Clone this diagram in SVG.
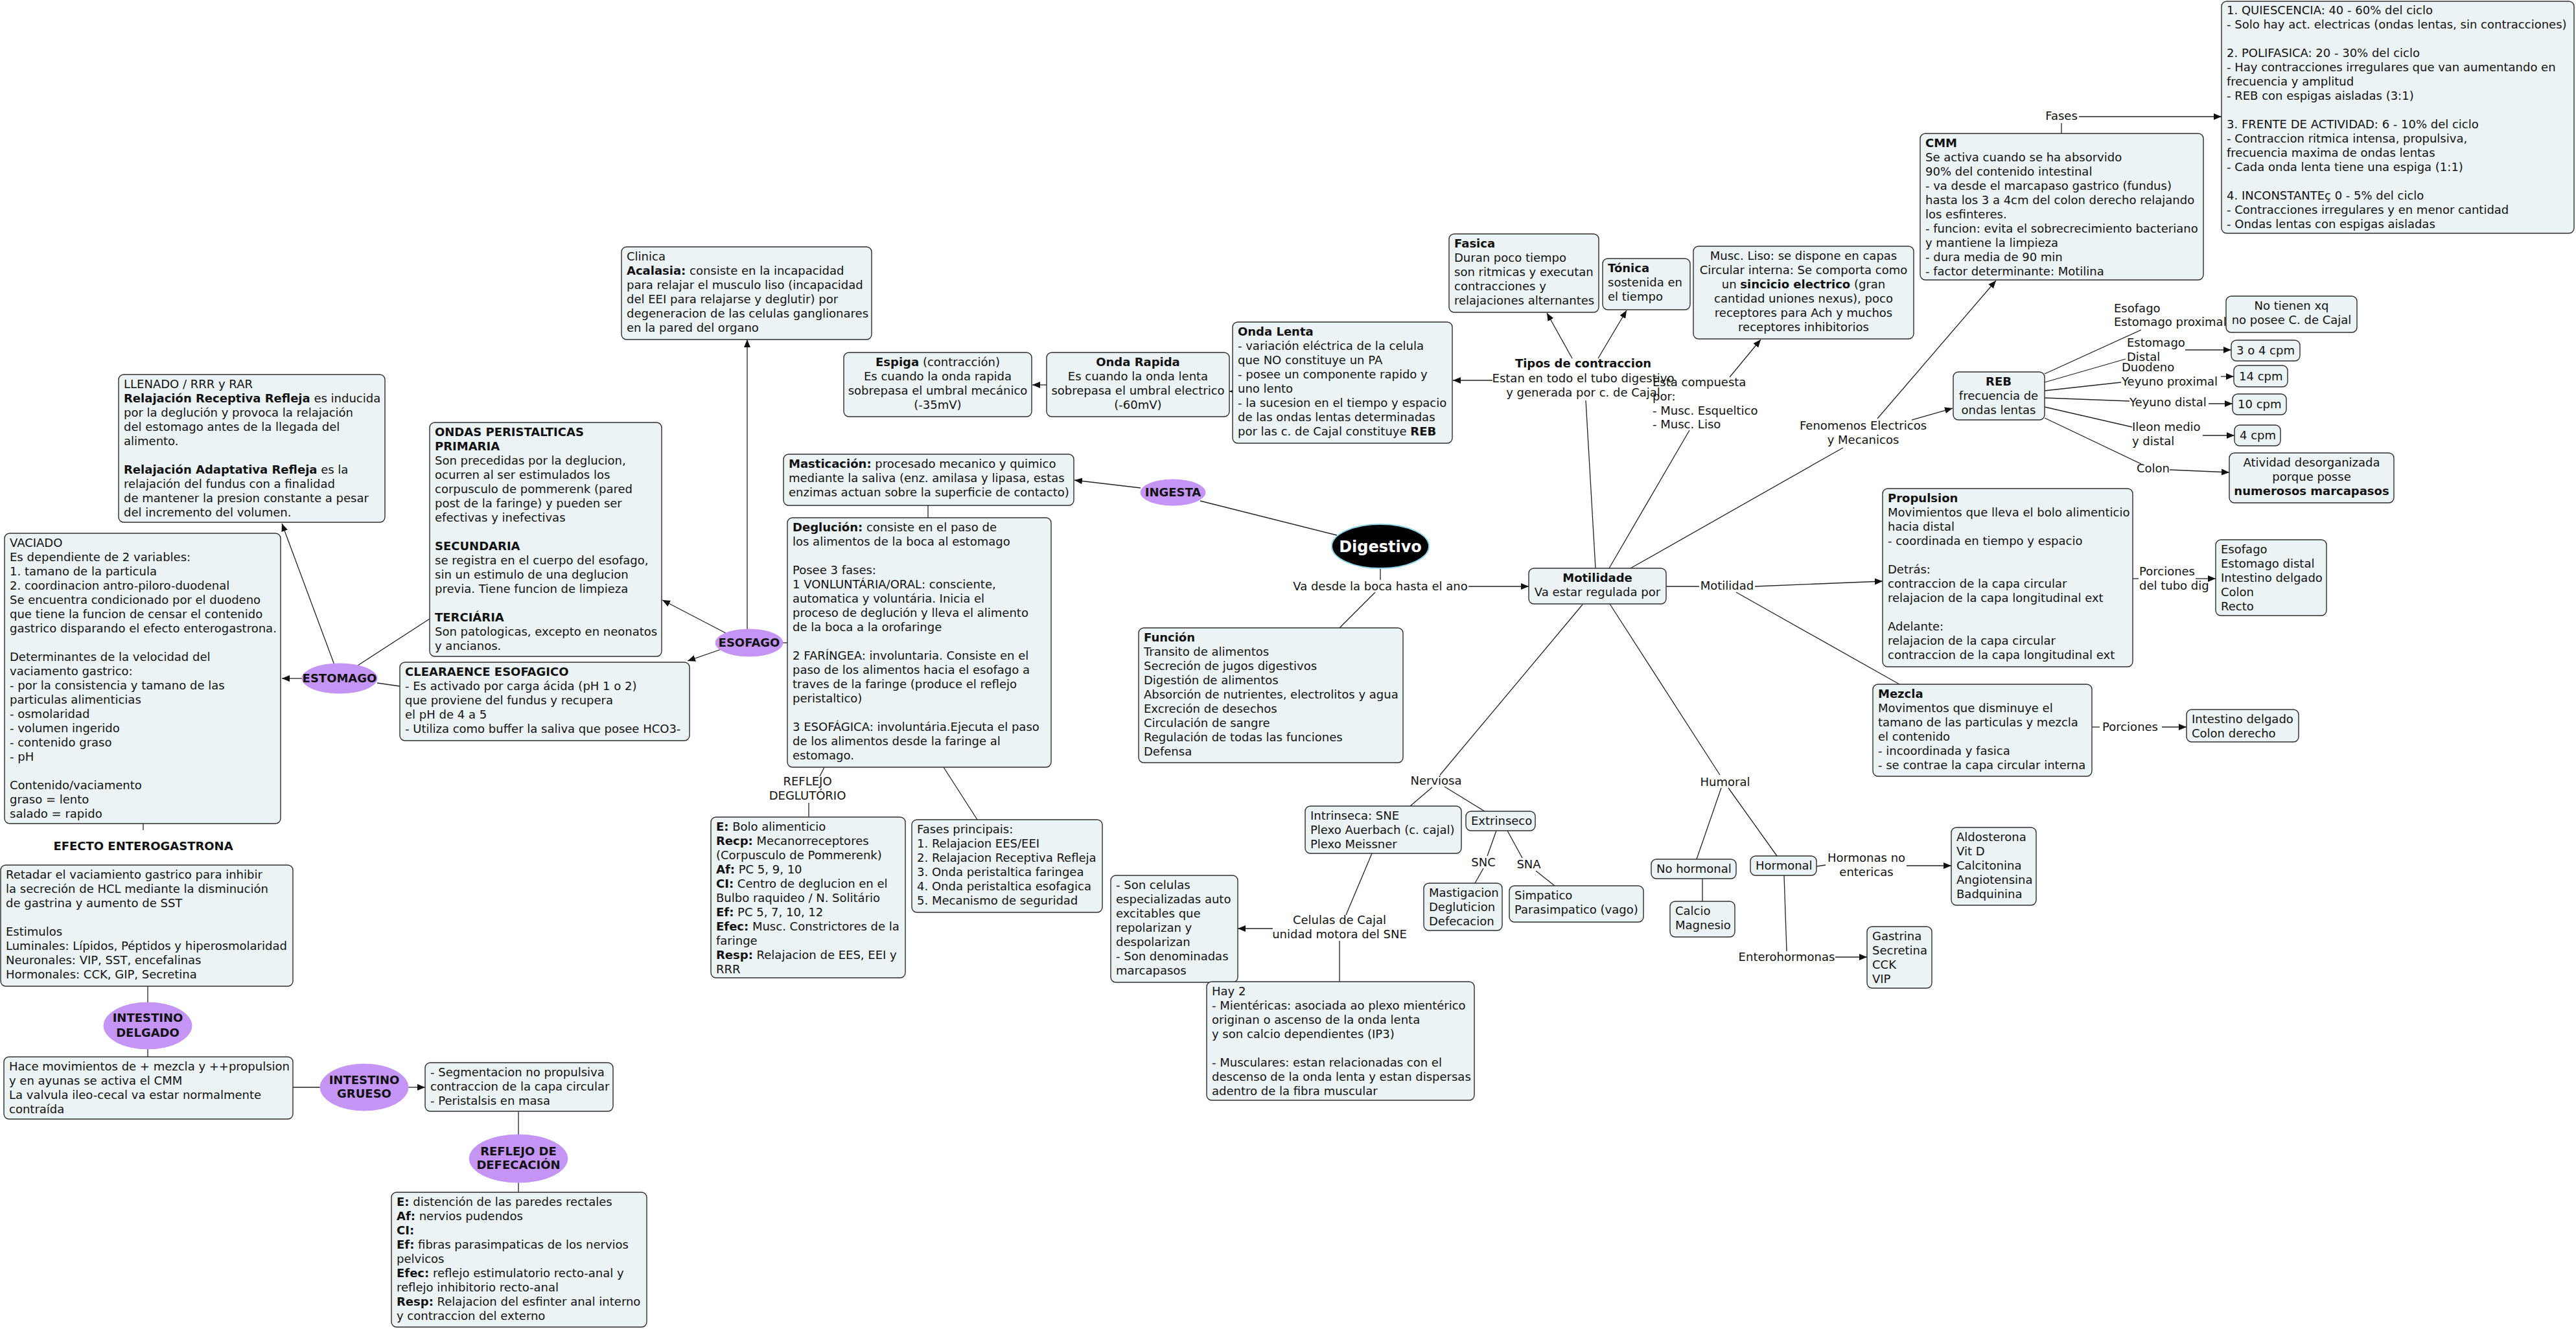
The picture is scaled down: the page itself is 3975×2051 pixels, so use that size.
<svg xmlns="http://www.w3.org/2000/svg" width="3975" height="2051" viewBox="0 0 3975 2051">
<style>
text{font-family:"DejaVu Sans",Verdana,sans-serif;font-size:18px;fill:#111}
.b{font-weight:bold}
.c{text-anchor:middle}
.n rect{fill:#ECF3F5;stroke:#2e2e2e;stroke-width:1.4}
ellipse.p{fill:#C595F5;stroke:#C595F5;stroke-width:1}
#links line,#links path{stroke:#222;stroke-width:1.3;fill:none}
</style>
<defs>
<marker id="a" viewBox="0 0 12 12" refX="12" refY="6" markerWidth="12" markerHeight="12" markerUnits="userSpaceOnUse" orient="auto"><path d="M0,1 L12,6 L0,11 z" fill="#111"/></marker>
</defs>
<rect width="3975" height="2051" fill="#fff"/>

<g id="links">
<line x1="516" y1="1026" x2="435" y2="808" marker-end="url(#a)"/>
<line x1="466" y1="1047" x2="435" y2="1047" marker-end="url(#a)"/>
<line x1="552" y1="1027" x2="663" y2="955"/>
<line x1="582" y1="1054" x2="617" y2="1059"/>
<line x1="221" y1="1271" x2="221" y2="1281"/>
<line x1="228" y1="1522" x2="228" y2="1547"/>
<line x1="228" y1="1619" x2="228" y2="1631"/>
<line x1="452" y1="1678" x2="494" y2="1678"/>
<line x1="630" y1="1678" x2="656" y2="1678" marker-end="url(#a)"/>
<line x1="800" y1="1715" x2="800" y2="1751"/>
<line x1="800" y1="1825" x2="800" y2="1840"/>
<line x1="1153" y1="971" x2="1153" y2="524" marker-end="url(#a)"/>
<line x1="1120" y1="977" x2="1022" y2="926" marker-end="url(#a)"/>
<line x1="1113" y1="1002" x2="1061" y2="1020" marker-end="url(#a)"/>
<line x1="1208" y1="992" x2="1215" y2="992"/>
<line x1="1432" y1="780" x2="1432" y2="799"/>
<line x1="1760" y1="753" x2="1658" y2="741" marker-end="url(#a)"/>
<line x1="2063" y1="826" x2="1852" y2="773"/>
<line x1="1272" y1="1184" x2="1265" y2="1198"/>
<line x1="1248" y1="1239" x2="1248" y2="1261"/>
<line x1="1456" y1="1184" x2="1508" y2="1265"/>
<line x1="1902" y1="604" x2="1897" y2="604" marker-end="url(#a)"/>
<line x1="1615" y1="594" x2="1593" y2="594" marker-end="url(#a)"/>
<line x1="2130" y1="878" x2="2130" y2="895"/>
<line x1="2266" y1="905" x2="2359" y2="905" marker-end="url(#a)"/>
<line x1="2122" y1="914" x2="2067" y2="969"/>
<line x1="2462" y1="877" x2="2447" y2="618"/>
<line x1="2426" y1="553" x2="2387" y2="483" marker-end="url(#a)"/>
<line x1="2466" y1="553" x2="2510" y2="479" marker-end="url(#a)"/>
<line x1="2303" y1="587" x2="2242" y2="587" marker-end="url(#a)"/>
<line x1="2483" y1="877" x2="2607" y2="664"/>
<line x1="2669" y1="582" x2="2717" y2="524" marker-end="url(#a)"/>
<line x1="2516" y1="877" x2="2844" y2="691"/>
<line x1="2897" y1="646" x2="3080" y2="433" marker-end="url(#a)"/>
<line x1="2950" y1="648" x2="3013" y2="630" marker-end="url(#a)"/>
<line x1="3181" y1="206" x2="3181" y2="190"/>
<line x1="3208" y1="180" x2="3428" y2="180" marker-end="url(#a)"/>
<line x1="3155" y1="577" x2="3304" y2="509"/>
<line x1="3155" y1="590" x2="3280" y2="554"/>
<line x1="3155" y1="603" x2="3273" y2="590"/>
<line x1="3155" y1="614" x2="3286" y2="619"/>
<line x1="3155" y1="628" x2="3290" y2="659"/>
<line x1="3155" y1="645" x2="3304" y2="716"/>
<line x1="3372" y1="540" x2="3443" y2="540" marker-end="url(#a)"/>
<line x1="3427" y1="581" x2="3447" y2="581" marker-end="url(#a)"/>
<line x1="3408" y1="623" x2="3445" y2="623" marker-end="url(#a)"/>
<line x1="3399" y1="672" x2="3448" y2="672" marker-end="url(#a)"/>
<line x1="3348" y1="725" x2="3440" y2="729" marker-end="url(#a)"/>
<line x1="2571" y1="905" x2="2622" y2="905"/>
<line x1="2708" y1="905" x2="2905" y2="897" marker-end="url(#a)"/>
<line x1="2679" y1="914" x2="2931" y2="1056"/>
<line x1="3291" y1="893" x2="3300" y2="893"/>
<line x1="3388" y1="893" x2="3419" y2="893" marker-end="url(#a)"/>
<line x1="3228" y1="1122" x2="3240" y2="1122"/>
<line x1="3336" y1="1122" x2="3374" y2="1122" marker-end="url(#a)"/>
<line x1="2442" y1="933" x2="2222" y2="1196"/>
<line x1="2210" y1="1215" x2="2176" y2="1244"/>
<line x1="2229" y1="1214" x2="2291" y2="1252"/>
<line x1="2309" y1="1282" x2="2295" y2="1321"/>
<line x1="2289" y1="1340" x2="2276" y2="1363"/>
<line x1="2326" y1="1282" x2="2349" y2="1324"/>
<line x1="2370" y1="1344" x2="2399" y2="1367"/>
<line x1="2117" y1="1317" x2="2077" y2="1412"/>
<line x1="1964" y1="1433" x2="1910" y2="1433" marker-end="url(#a)"/>
<line x1="2067" y1="1452" x2="2067" y2="1515"/>
<line x1="2484" y1="932" x2="2654" y2="1196"/>
<line x1="2656" y1="1216" x2="2618" y2="1326"/>
<line x1="2667" y1="1216" x2="2742" y2="1321"/>
<line x1="2627" y1="1356" x2="2627" y2="1391"/>
<line x1="2803" y1="1337" x2="2817" y2="1335"/>
<line x1="2942" y1="1336" x2="3011" y2="1336" marker-end="url(#a)"/>
<line x1="2753" y1="1351" x2="2757" y2="1468"/>
<line x1="2832" y1="1477" x2="2881" y2="1477" marker-end="url(#a)"/>
</g>

<g id="llenado" class="n"><rect x="183" y="578" width="411" height="228" rx="8"/>
<text><tspan x="191" y="599">LLENADO / RRR y RAR</tspan><tspan x="191" y="621"><tspan class="b">Relajación Receptiva Refleja</tspan> es inducida</tspan><tspan x="191" y="643">por la deglución y provoca la relajación</tspan><tspan x="191" y="665">del estomago antes de la llegada del</tspan><tspan x="191" y="687">alimento.</tspan><tspan x="191" y="731"><tspan class="b">Relajación Adaptativa Refleja</tspan> es la</tspan><tspan x="191" y="753">relajación del fundus con a finalidad</tspan><tspan x="191" y="775">de mantener la presion constante a pesar</tspan><tspan x="191" y="797">del incremento del volumen.</tspan></text></g>

<g id="vaciado" class="n"><rect x="7" y="823" width="426" height="448" rx="8"/>
<text><tspan x="15" y="844">VACIADO</tspan><tspan x="15" y="866">Es dependiente de 2 variables:</tspan><tspan x="15" y="888">1. tamano de la particula</tspan><tspan x="15" y="910">2. coordinacion antro-piloro-duodenal</tspan><tspan x="15" y="932">Se encuentra condicionado por el duodeno</tspan><tspan x="15" y="954">que tiene la funcion de censar el contenido</tspan><tspan x="15" y="976">gastrico disparando el efecto enterogastrona.</tspan><tspan x="15" y="1020">Determinantes de la velocidad del</tspan><tspan x="15" y="1042">vaciamento gastrico:</tspan><tspan x="15" y="1064">- por la consistencia y tamano de las</tspan><tspan x="15" y="1086">particulas alimenticias</tspan><tspan x="15" y="1108">- osmolaridad</tspan><tspan x="15" y="1130">- volumen ingerido</tspan><tspan x="15" y="1152">- contenido graso</tspan><tspan x="15" y="1174">- pH</tspan><tspan x="15" y="1218">Contenido/vaciamento</tspan><tspan x="15" y="1240">graso = lento</tspan><tspan x="15" y="1262">salado = rapido</tspan></text></g>

<g id="ondas" class="n"><rect x="663" y="652" width="358" height="361" rx="8"/>
<text><tspan x="671" y="673" class="b">ONDAS PERISTALTICAS</tspan><tspan x="671" y="695" class="b">PRIMARIA</tspan><tspan x="671" y="717">Son precedidas por la deglucion,</tspan><tspan x="671" y="739">ocurren al ser estimulados los</tspan><tspan x="671" y="761">corpusculo de pommerenk (pared</tspan><tspan x="671" y="783">post de la faringe) y pueden ser</tspan><tspan x="671" y="805">efectivas y inefectivas</tspan><tspan x="671" y="849" class="b">SECUNDARIA</tspan><tspan x="671" y="871">se registra en el cuerpo del esofago,</tspan><tspan x="671" y="893">sin un estimulo de una deglucion</tspan><tspan x="671" y="915">previa. Tiene funcion de limpieza</tspan><tspan x="671" y="959" class="b">TERCIÁRIA</tspan><tspan x="671" y="981">Son patologicas, excepto en neonatos</tspan><tspan x="671" y="1003">y ancianos.</tspan></text></g>

<g id="estomago"><ellipse class="p" cx="524" cy="1047" rx="58" ry="23"/><text x="524" y="1053" class="b c">ESTOMAGO</text></g>

<g id="clearaence" class="n"><rect x="617" y="1022" width="447" height="121" rx="8"/>
<text><tspan x="625" y="1043" class="b">CLEARAENCE ESOFAGICO</tspan><tspan x="625" y="1065">- Es activado por carga ácida (pH 1 o 2)</tspan><tspan x="625" y="1087">que proviene del fundus y recupera</tspan><tspan x="625" y="1109">el pH de 4 a 5</tspan><tspan x="625" y="1131">- Utiliza como buffer la saliva que posee HCO3-</tspan></text></g>

<g id="efecto"><text x="221" y="1312" class="b c">EFECTO ENTEROGASTRONA</text></g>

<g id="retadar" class="n"><rect x="1" y="1335" width="451" height="187" rx="8"/>
<text><tspan x="9" y="1356">Retadar el vaciamiento gastrico para inhibir</tspan><tspan x="9" y="1378">la secreción de HCL mediante la disminución</tspan><tspan x="9" y="1400">de gastrina y aumento de SST</tspan><tspan x="9" y="1444">Estimulos</tspan><tspan x="9" y="1466">Luminales: Lípidos, Péptidos y hiperosmolaridad</tspan><tspan x="9" y="1488">Neuronales: VIP, SST, encefalinas</tspan><tspan x="9" y="1510">Hormonales: CCK, GIP, Secretina</tspan></text></g>

<g id="int-delgado"><ellipse class="p" cx="228" cy="1583" rx="68" ry="36"/><text class="b c"><tspan x="228" y="1577">INTESTINO</tspan><tspan x="228" y="1600">DELGADO</tspan></text></g>

<g id="hace" class="n"><rect x="6" y="1631" width="446" height="96" rx="8"/>
<text><tspan x="14" y="1652">Hace movimientos de + mezcla y ++propulsion</tspan><tspan x="14" y="1674">y en ayunas se activa el CMM</tspan><tspan x="14" y="1696">La valvula ileo-cecal va estar normalmente</tspan><tspan x="14" y="1718">contraída</tspan></text></g>

<g id="int-grueso"><ellipse class="p" cx="562" cy="1678" rx="68" ry="36"/><text class="b c"><tspan x="562" y="1673">INTESTINO</tspan><tspan x="562" y="1694">GRUESO</tspan></text></g>

<g id="segmentacion" class="n"><rect x="656" y="1640" width="290" height="75" rx="8"/>
<text><tspan x="664" y="1661">- Segmentacion no propulsiva</tspan><tspan x="664" y="1683">contraccion de la capa circular</tspan><tspan x="664" y="1705">- Peristalsis en masa</tspan></text></g>

<g id="reflejo-def"><ellipse class="p" cx="800" cy="1788" rx="76" ry="37"/><text class="b c"><tspan x="800" y="1783">REFLEJO DE</tspan><tspan x="800" y="1804">DEFECACIÓN</tspan></text></g>

<g id="e-distencion" class="n"><rect x="604" y="1840" width="394" height="208" rx="8"/>
<text><tspan x="612" y="1861"><tspan class="b">E:</tspan> distención de las paredes rectales</tspan><tspan x="612" y="1883"><tspan class="b">Af:</tspan> nervios pudendos</tspan><tspan x="612" y="1905" class="b">CI:</tspan><tspan x="612" y="1927"><tspan class="b">Ef:</tspan> fibras parasimpaticas de los nervios</tspan><tspan x="612" y="1949">pelvicos</tspan><tspan x="612" y="1971"><tspan class="b">Efec:</tspan> reflejo estimulatorio recto-anal y</tspan><tspan x="612" y="1993">reflejo inhibitorio recto-anal</tspan><tspan x="612" y="2015"><tspan class="b">Resp:</tspan> Relajacion del esfinter anal interno</tspan><tspan x="612" y="2037">y contraccion del externo</tspan></text></g>

<g id="clinica" class="n"><rect x="959" y="381" width="386" height="143" rx="8"/>
<text><tspan x="967" y="402">Clinica</tspan><tspan x="967" y="424"><tspan class="b">Acalasia:</tspan> consiste en la incapacidad</tspan><tspan x="967" y="446">para relajar el musculo liso (incapacidad</tspan><tspan x="967" y="468">del EEI para relajarse y deglutir) por</tspan><tspan x="967" y="490">degeneracion de las celulas ganglionares</tspan><tspan x="967" y="512">en la pared del organo</tspan></text></g>

<g id="espiga" class="n"><rect x="1302" y="544" width="290" height="99" rx="8"/>
<text class="c"><tspan x="1447" y="565"><tspan class="b">Espiga</tspan> (contracción)</tspan><tspan x="1447" y="587">Es cuando la onda rapida</tspan><tspan x="1447" y="609">sobrepasa el umbral mecánico</tspan><tspan x="1447" y="631">(-35mV)</tspan></text></g>

<g id="onda-rapida" class="n"><rect x="1615" y="544" width="282" height="99" rx="8"/>
<text class="c"><tspan x="1756" y="565" class="b">Onda Rapida</tspan><tspan x="1756" y="587">Es cuando la onda lenta</tspan><tspan x="1756" y="609">sobrepasa el umbral electrico</tspan><tspan x="1756" y="631">(-60mV)</tspan></text></g>

<g id="onda-lenta" class="n"><rect x="1902" y="497" width="339" height="187" rx="8"/>
<text><tspan x="1910" y="518" class="b">Onda Lenta</tspan><tspan x="1910" y="540">- variación eléctrica de la celula</tspan><tspan x="1910" y="562">que NO constituye un PA</tspan><tspan x="1910" y="584">- posee un componente rapido y</tspan><tspan x="1910" y="606">uno lento</tspan><tspan x="1910" y="628">- la sucesion en el tiempo y espacio</tspan><tspan x="1910" y="650">de las ondas lentas determinadas</tspan><tspan x="1910" y="672">por las c. de Cajal constituye <tspan class="b">REB</tspan></tspan></text></g>

<g id="masticacion" class="n"><rect x="1209" y="701" width="448" height="79" rx="8"/>
<text><tspan x="1217" y="722"><tspan class="b">Masticación:</tspan> procesado mecanico y quimico</tspan><tspan x="1217" y="744">mediante la saliva (enz. amilasa y lipasa, estas</tspan><tspan x="1217" y="766">enzimas actuan sobre la superficie de contacto)</tspan></text></g>

<g id="ingesta"><ellipse class="p" cx="1810" cy="760" rx="50" ry="20"/><text x="1810" y="766" class="b c">INGESTA</text></g>

<g id="deglucion" class="n"><rect x="1215" y="799" width="407" height="385" rx="8"/>
<text><tspan x="1223" y="820"><tspan class="b">Deglución:</tspan> consiste en el paso de</tspan><tspan x="1223" y="842">los alimentos de la boca al estomago</tspan><tspan x="1223" y="886">Posee 3 fases:</tspan><tspan x="1223" y="908">1 VONLUNTÁRIA/ORAL: consciente,</tspan><tspan x="1223" y="930">automatica y voluntária. Inicia el</tspan><tspan x="1223" y="952">proceso de deglución y lleva el alimento</tspan><tspan x="1223" y="974">de la boca a la orofaringe</tspan><tspan x="1223" y="1018">2 FARÍNGEA: involuntaria. Consiste en el</tspan><tspan x="1223" y="1040">paso de los alimentos hacia el esofago a</tspan><tspan x="1223" y="1062">traves de la faringe (produce el reflejo</tspan><tspan x="1223" y="1084">peristaltico)</tspan><tspan x="1223" y="1128">3 ESOFÁGICA: involuntária.Ejecuta el paso</tspan><tspan x="1223" y="1150">de los alimentos desde la faringe al</tspan><tspan x="1223" y="1172">estomago.</tspan></text></g>

<g id="esofago"><ellipse class="p" cx="1156" cy="992" rx="52" ry="21"/><text x="1156" y="998" class="b c">ESOFAGO</text></g>

<g id="reflejo-deg"><text class="c"><tspan x="1246" y="1212">REFLEJO</tspan><tspan x="1246" y="1234">DEGLUTÓRIO</tspan></text></g>

<g id="e-bolo" class="n"><rect x="1097" y="1261" width="300" height="248" rx="8"/>
<text><tspan x="1105" y="1282"><tspan class="b">E:</tspan> Bolo alimenticio</tspan><tspan x="1105" y="1304"><tspan class="b">Recp:</tspan> Mecanorreceptores</tspan><tspan x="1105" y="1326">(Corpusculo de Pommerenk)</tspan><tspan x="1105" y="1348"><tspan class="b">Af:</tspan> PC 5, 9, 10</tspan><tspan x="1105" y="1370"><tspan class="b">CI:</tspan> Centro de deglucion en el</tspan><tspan x="1105" y="1392">Bulbo raquideo /  N. Solitário</tspan><tspan x="1105" y="1414"><tspan class="b">Ef:</tspan> PC 5, 7, 10, 12</tspan><tspan x="1105" y="1436"><tspan class="b">Efec:</tspan> Musc. Constrictores de la</tspan><tspan x="1105" y="1458">faringe</tspan><tspan x="1105" y="1480"><tspan class="b">Resp:</tspan> Relajacion de EES, EEI y</tspan><tspan x="1105" y="1502">RRR</tspan></text></g>

<g id="fases-principais" class="n"><rect x="1407" y="1265" width="294" height="143" rx="8"/>
<text><tspan x="1415" y="1286">Fases principais:</tspan><tspan x="1415" y="1308">1. Relajacion EES/EEI</tspan><tspan x="1415" y="1330">2. Relajacion Receptiva Refleja</tspan><tspan x="1415" y="1352">3. Onda peristaltica faringea</tspan><tspan x="1415" y="1374">4. Onda peristaltica esofagica</tspan><tspan x="1415" y="1396">5. Mecanismo de seguridad</tspan></text></g>

<g id="funcion" class="n"><rect x="1757" y="969" width="408" height="208" rx="8"/>
<text><tspan x="1765" y="990" class="b">Función</tspan><tspan x="1765" y="1012">Transito de alimentos</tspan><tspan x="1765" y="1034">Secreción de jugos digestivos</tspan><tspan x="1765" y="1056">Digestión de alimentos</tspan><tspan x="1765" y="1078">Absorción de nutrientes, electrolitos y agua</tspan><tspan x="1765" y="1100">Excreción de desechos</tspan><tspan x="1765" y="1122">Circulación de sangre</tspan><tspan x="1765" y="1144">Regulación de todas las funciones</tspan><tspan x="1765" y="1166">Defensa</tspan></text></g>

<g id="son-celulas" class="n"><rect x="1714" y="1351" width="196" height="165" rx="8"/>
<text><tspan x="1722" y="1372">- Son celulas</tspan><tspan x="1722" y="1394">especializadas auto</tspan><tspan x="1722" y="1416">excitables que</tspan><tspan x="1722" y="1438">repolarizan y</tspan><tspan x="1722" y="1460">despolarizan</tspan><tspan x="1722" y="1482">- Son denominadas</tspan><tspan x="1722" y="1504">marcapasos</tspan></text></g>

<g id="hay2" class="n"><rect x="1862" y="1515" width="413" height="183" rx="8"/>
<text><tspan x="1870" y="1536">Hay 2</tspan><tspan x="1870" y="1558">- Mientéricas: asociada ao plexo mientérico</tspan><tspan x="1870" y="1580">originan o ascenso de la onda lenta</tspan><tspan x="1870" y="1602">y son calcio dependientes (IP3)</tspan><tspan x="1870" y="1646">- Musculares: estan relacionadas con el</tspan><tspan x="1870" y="1668">descenso de la onda lenta y estan dispersas</tspan><tspan x="1870" y="1690">adentro de la fibra muscular</tspan></text></g>

<g id="celulas-cajal"><text class="c"><tspan x="2067" y="1426">Celulas de Cajal</tspan><tspan x="2067" y="1448">unidad motora del SNE</tspan></text></g>

<g id="intrinseca" class="n"><rect x="2014" y="1244" width="241" height="73" rx="8"/>
<text><tspan x="2022" y="1265">Intrinseca: SNE</tspan><tspan x="2022" y="1287">Plexo Auerbach (c. cajal)</tspan><tspan x="2022" y="1309">Plexo Meissner</tspan></text></g>

<g id="extrinseco" class="n"><rect x="2262" y="1252" width="107" height="30" rx="8"/><text x="2270" y="1273">Extrinseco</text></g>
<g id="snc"><text x="2289" y="1337" class="c">SNC</text></g>
<g id="sna"><text x="2359" y="1340" class="c">SNA</text></g>

<g id="mastigacion" class="n"><rect x="2197" y="1363" width="121" height="73" rx="8"/>
<text><tspan x="2205" y="1384">Mastigacion</tspan><tspan x="2205" y="1406">Degluticion</tspan><tspan x="2205" y="1428">Defecacion</tspan></text></g>

<g id="simpatico" class="n"><rect x="2329" y="1367" width="207" height="56" rx="8"/>
<text><tspan x="2337" y="1388">Simpatico</tspan><tspan x="2337" y="1410">Parasimpatico (vago)</tspan></text></g>

<g id="nerviosa"><text x="2216" y="1211" class="c">Nerviosa</text></g>
<g id="humoral"><text x="2662" y="1213" class="c">Humoral</text></g>

<g id="no-hormonal" class="n"><rect x="2548" y="1326" width="131" height="30" rx="8"/><text x="2556" y="1347">No hormonal</text></g>
<g id="hormonal" class="n"><rect x="2701" y="1321" width="102" height="30" rx="8"/><text x="2709" y="1342">Hormonal</text></g>

<g id="calcio" class="n"><rect x="2577" y="1391" width="100" height="55" rx="8"/>
<text><tspan x="2585" y="1412">Calcio</tspan><tspan x="2585" y="1434">Magnesio</tspan></text></g>

<g id="hormonas-no"><text class="c"><tspan x="2880" y="1330">Hormonas no</tspan><tspan x="2880" y="1352">entericas</tspan></text></g>

<g id="aldosterona" class="n"><rect x="3011" y="1277" width="131" height="120" rx="8"/>
<text><tspan x="3019" y="1298">Aldosterona</tspan><tspan x="3019" y="1320">Vit D</tspan><tspan x="3019" y="1342">Calcitonina</tspan><tspan x="3019" y="1364">Angiotensina</tspan><tspan x="3019" y="1386">Badquinina</tspan></text></g>

<g id="enterohormonas"><text x="2757" y="1483" class="c">Enterohormonas</text></g>

<g id="gastrina" class="n"><rect x="2881" y="1430" width="100" height="95" rx="8"/>
<text><tspan x="2889" y="1451">Gastrina</tspan><tspan x="2889" y="1473">Secretina</tspan><tspan x="2889" y="1495">CCK</tspan><tspan x="2889" y="1517">VIP</tspan></text></g>

<g id="digestivo"><ellipse cx="2130" cy="843" rx="75" ry="34" fill="#000" stroke="#8fd3e6" stroke-width="2"/><text x="2130" y="852" class="b c" style="font-size:24px;fill:#fff">Digestivo</text></g>

<g id="va-desde"><text x="2130" y="911" class="c">Va desde la boca hasta el ano</text></g>

<g id="motilidade" class="n"><rect x="2359" y="877" width="212" height="55" rx="8"/>
<text class="c"><tspan x="2465" y="898" class="b">Motilidade</tspan><tspan x="2465" y="920">Va estar regulada por</tspan></text></g>

<g id="tipos"><text class="c"><tspan x="2443" y="567" class="b">Tipos de contraccion</tspan><tspan x="2443" y="590">Estan en todo el tubo digestivo</tspan><tspan x="2443" y="612">y generada por c. de Cajal</tspan></text></g>

<g id="fasica" class="n"><rect x="2236" y="361" width="231" height="121" rx="8"/>
<text><tspan x="2244" y="382" class="b">Fasica</tspan><tspan x="2244" y="404">Duran poco tiempo</tspan><tspan x="2244" y="426">son ritmicas y executan</tspan><tspan x="2244" y="448">contracciones y</tspan><tspan x="2244" y="470">relajaciones alternantes</tspan></text></g>

<g id="tonica" class="n"><rect x="2473" y="399" width="135" height="79" rx="8"/>
<text><tspan x="2481" y="420" class="b">Tónica</tspan><tspan x="2481" y="442">sostenida en</tspan><tspan x="2481" y="464">el tiempo</tspan></text></g>

<g id="musc-liso" class="n"><rect x="2613" y="380" width="340" height="143" rx="8"/>
<text class="c"><tspan x="2783" y="401">Musc. Liso: se dispone en capas</tspan><tspan x="2783" y="423">Circular interna: Se comporta como</tspan><tspan x="2783" y="445">un <tspan class="b">sincicio electrico</tspan> (gran</tspan><tspan x="2783" y="467">cantidad uniones nexus), poco</tspan><tspan x="2783" y="489">receptores para Ach y muchos</tspan><tspan x="2783" y="511">receptores inhibitorios</tspan></text></g>

<g id="esta-compuesta"><text><tspan x="2550" y="596">Esta compuesta</tspan><tspan x="2550" y="618">por:</tspan><tspan x="2550" y="640">- Musc. Esqueltico</tspan><tspan x="2550" y="661">- Musc. Liso</tspan></text></g>

<g id="fenomenos"><text class="c"><tspan x="2875" y="663">Fenomenos Electricos</tspan><tspan x="2875" y="685">y Mecanicos</tspan></text></g>

<g id="cmm" class="n"><rect x="2963" y="206" width="437" height="226" rx="8"/>
<text><tspan x="2971" y="227" class="b">CMM</tspan><tspan x="2971" y="249">Se activa cuando se ha absorvido</tspan><tspan x="2971" y="271">90% del contenido intestinal</tspan><tspan x="2971" y="293">- va desde el marcapaso gastrico (fundus)</tspan><tspan x="2971" y="315">hasta los 3 a 4cm del colon derecho relajando</tspan><tspan x="2971" y="337">los esfinteres.</tspan><tspan x="2971" y="359">- funcion: evita el sobrecrecimiento bacteriano</tspan><tspan x="2971" y="381">y mantiene la limpieza</tspan><tspan x="2971" y="403">- dura media de 90 min</tspan><tspan x="2971" y="425">- factor determinante: Motilina</tspan></text></g>

<g id="fases-label"><text x="3181" y="185" class="c">Fases</text></g>

<g id="fases" class="n"><rect x="3428" y="2" width="544" height="358" rx="8"/>
<text><tspan x="3436" y="22">1. QUIESCENCIA: 40 - 60% del ciclo</tspan><tspan x="3436" y="44">- Solo hay act. electricas (ondas lentas, sin contracciones)</tspan><tspan x="3436" y="88">2. POLIFASICA: 20 - 30% del ciclo</tspan><tspan x="3436" y="110">- Hay contracciones irregulares que van aumentando en</tspan><tspan x="3436" y="132">frecuencia y amplitud</tspan><tspan x="3436" y="154">- REB con espigas aisladas (3:1)</tspan><tspan x="3436" y="198">3. FRENTE DE ACTIVIDAD: 6 - 10% del ciclo</tspan><tspan x="3436" y="220">- Contraccion ritmica intensa, propulsiva,</tspan><tspan x="3436" y="242">frecuencia maxima de ondas lentas</tspan><tspan x="3436" y="264">- Cada onda lenta tiene una espiga (1:1)</tspan><tspan x="3436" y="308">4. INCONSTANTEç 0 - 5% del ciclo</tspan><tspan x="3436" y="330">- Contracciones irregulares y en menor cantidad</tspan><tspan x="3436" y="352">- Ondas lentas con espigas aisladas</tspan></text></g>

<g id="reb" class="n"><rect x="3014" y="574" width="141" height="74" rx="8"/>
<text class="c"><tspan x="3084" y="595" class="b">REB</tspan><tspan x="3084" y="617">frecuencia de</tspan><tspan x="3084" y="639">ondas lentas</tspan></text></g>

<g id="lbl-esofago"><text><tspan x="3262" y="482">Esofago</tspan><tspan x="3262" y="503">Estomago proximal</tspan></text></g>
<g id="lbl-estomago-distal"><text><tspan x="3282" y="535">Estomago</tspan><tspan x="3282" y="557">Distal</tspan></text></g>
<g id="lbl-duodeno"><text><tspan x="3274" y="573">Duodeno</tspan><tspan x="3274" y="595">Yeyuno proximal</tspan></text></g>
<g id="lbl-yeyuno-distal"><text x="3286" y="627">Yeyuno distal</text></g>
<g id="lbl-ileon"><text><tspan x="3290" y="665">Ileon medio</tspan><tspan x="3290" y="687">y distal</tspan></text></g>
<g id="lbl-colon"><text x="3297" y="729">Colon</text></g>

<g id="no-tienen" class="n"><rect x="3435" y="457" width="202" height="56" rx="8"/>
<text class="c"><tspan x="3536" y="478">No tienen xq</tspan><tspan x="3536" y="500">no posee C. de Cajal</tspan></text></g>
<g id="cpm34" class="n"><rect x="3443" y="525" width="106" height="32" rx="8"/><text x="3451" y="547">3 o 4 cpm</text></g>
<g id="cpm14" class="n"><rect x="3447" y="564" width="83" height="33" rx="8"/><text x="3455" y="587">14 cpm</text></g>
<g id="cpm10" class="n"><rect x="3445" y="608" width="83" height="32" rx="8"/><text x="3453" y="630">10 cpm</text></g>
<g id="cpm4" class="n"><rect x="3448" y="656" width="71" height="32" rx="8"/><text x="3456" y="678">4 cpm</text></g>

<g id="atividad" class="n"><rect x="3440" y="699" width="254" height="77" rx="8"/>
<text class="c"><tspan x="3567" y="720">Atividad desorganizada</tspan><tspan x="3567" y="742">porque posse</tspan><tspan x="3567" y="764" class="b">numerosos marcapasos</tspan></text></g>

<g id="propulsion" class="n"><rect x="2905" y="754" width="386" height="275" rx="8"/>
<text><tspan x="2913" y="775" class="b">Propulsion</tspan><tspan x="2913" y="797">Movimientos que lleva el bolo alimenticio</tspan><tspan x="2913" y="819">hacia distal</tspan><tspan x="2913" y="841">- coordinada en tiempo y espacio</tspan><tspan x="2913" y="885">Detrás:</tspan><tspan x="2913" y="907">contraccion de la capa circular</tspan><tspan x="2913" y="929">relajacion de la capa longitudinal ext</tspan><tspan x="2913" y="973">Adelante:</tspan><tspan x="2913" y="995">relajacion de la capa circular</tspan><tspan x="2913" y="1017">contraccion de la capa longitudinal ext</tspan></text></g>

<g id="porciones-tubo"><text><tspan x="3301" y="888">Porciones</tspan><tspan x="3301" y="910">del tubo dig</tspan></text></g>

<g id="esofago-list" class="n"><rect x="3419" y="833" width="171" height="117" rx="8"/>
<text><tspan x="3427" y="854">Esofago</tspan><tspan x="3427" y="876">Estomago distal</tspan><tspan x="3427" y="898">Intestino delgado</tspan><tspan x="3427" y="920">Colon</tspan><tspan x="3427" y="942">Recto</tspan></text></g>

<g id="motilidad-lbl"><text x="2665" y="910" class="c">Motilidad</text></g>

<g id="mezcla" class="n"><rect x="2890" y="1056" width="338" height="142" rx="8"/>
<text><tspan x="2898" y="1077" class="b">Mezcla</tspan><tspan x="2898" y="1099">Movimentos que disminuye el</tspan><tspan x="2898" y="1121">tamano de las particulas y mezcla</tspan><tspan x="2898" y="1143">el contenido</tspan><tspan x="2898" y="1165">- incoordinada y fasica</tspan><tspan x="2898" y="1187">- se contrae la capa circular interna</tspan></text></g>

<g id="porciones"><text x="3287" y="1128" class="c">Porciones</text></g>

<g id="intestino-colon" class="n"><rect x="3374" y="1095" width="173" height="50" rx="8"/>
<text><tspan x="3382" y="1116">Intestino delgado</tspan><tspan x="3382" y="1138">Colon derecho</tspan></text></g>
</svg>
